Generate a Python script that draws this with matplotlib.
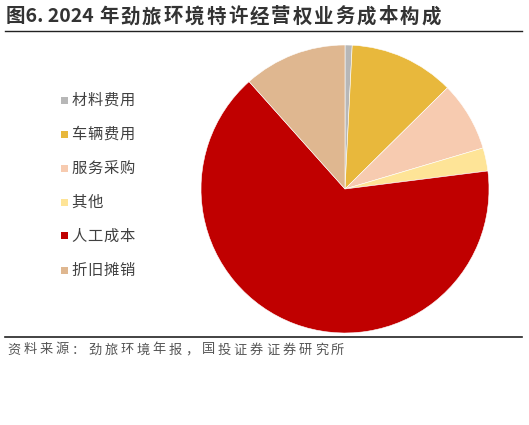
import matplotlib
matplotlib.use("Agg")
import matplotlib.pyplot as plt
from matplotlib.patches import Rectangle
from matplotlib.lines import Line2D

plt.rcParams['font.family'] = ['Noto Sans CJK SC', 'DejaVu Sans']

categories = ["材料费用", "车辆费用", "服务采购", "其他", "人工成本", "折旧摊销"]
values = [0.8, 11.8, 7.8, 2.6, 65.4, 11.6]
colors = ["#B7B7B7", "#E8B83C", "#F7CBB0", "#FEE497", "#C00000", "#DFB790"]

title_head = "图6. 2024"
title_tail = "年劲旅环境特许经营权业务成本构成"
source = "资料来源：劲旅环境年报，国投证券证券研究所"

W, H = 529, 425
fig = plt.figure(figsize=(W / 100, H / 100), dpi=100)


def fx(px):
    return px / W


def fy(py):
    return 1 - py / H


def spaced(x, y, text, pitch, **kw):
    for i, ch in enumerate(text):
        fig.text(fx(x + i * pitch), fy(y), ch, ha="left", va="center", **kw)


# Pie axes: center (345,189) px, radius 144 px
cx, cy, r = 345, 189, 144
ax = fig.add_axes([(cx - r) / W, (H - cy - r) / H, 2 * r / W, 2 * r / H])
ax.pie(values, colors=colors, startangle=90, counterclock=False,
       wedgeprops=dict(edgecolor="white", linewidth=0.4))
ax.set_xlim(-1, 1)
ax.set_ylim(-1, 1)
ax.set_aspect("equal")
ax.axis("off")

# Title
tkw = dict(fontsize=14, fontweight="bold", color="#333333")
fig.text(fx(6), fy(17), title_head, ha="left", va="center", **tkw)
spaced(99, 17, title_tail, 21.5, **tkw)

# Lines
fig.add_artist(Line2D([fx(5), fx(522)], [fy(31), fy(31)],
                      color="#222222", linewidth=1.0, transform=fig.transFigure))
fig.add_artist(Line2D([fx(5), fx(522)], [fy(337), fy(337)],
                      color="#222222", linewidth=1.2, transform=fig.transFigure))

# Source
spaced(7, 350, source, 16.2, fontsize=9.5, color="#555555")

# Legend
y0, dy = 100, 34
for i, (cat, col) in enumerate(zip(categories, colors)):
    y = y0 + i * dy
    fig.add_artist(Rectangle((fx(61), fy(y + 3.5)), 7 / W, 7 / H,
                             facecolor=col, edgecolor="none",
                             transform=fig.transFigure))
    spaced(71.5, y, cat, 16.1, fontsize=11, color="#404040", fontweight="medium")

fig.savefig("out.png", dpi=100)
